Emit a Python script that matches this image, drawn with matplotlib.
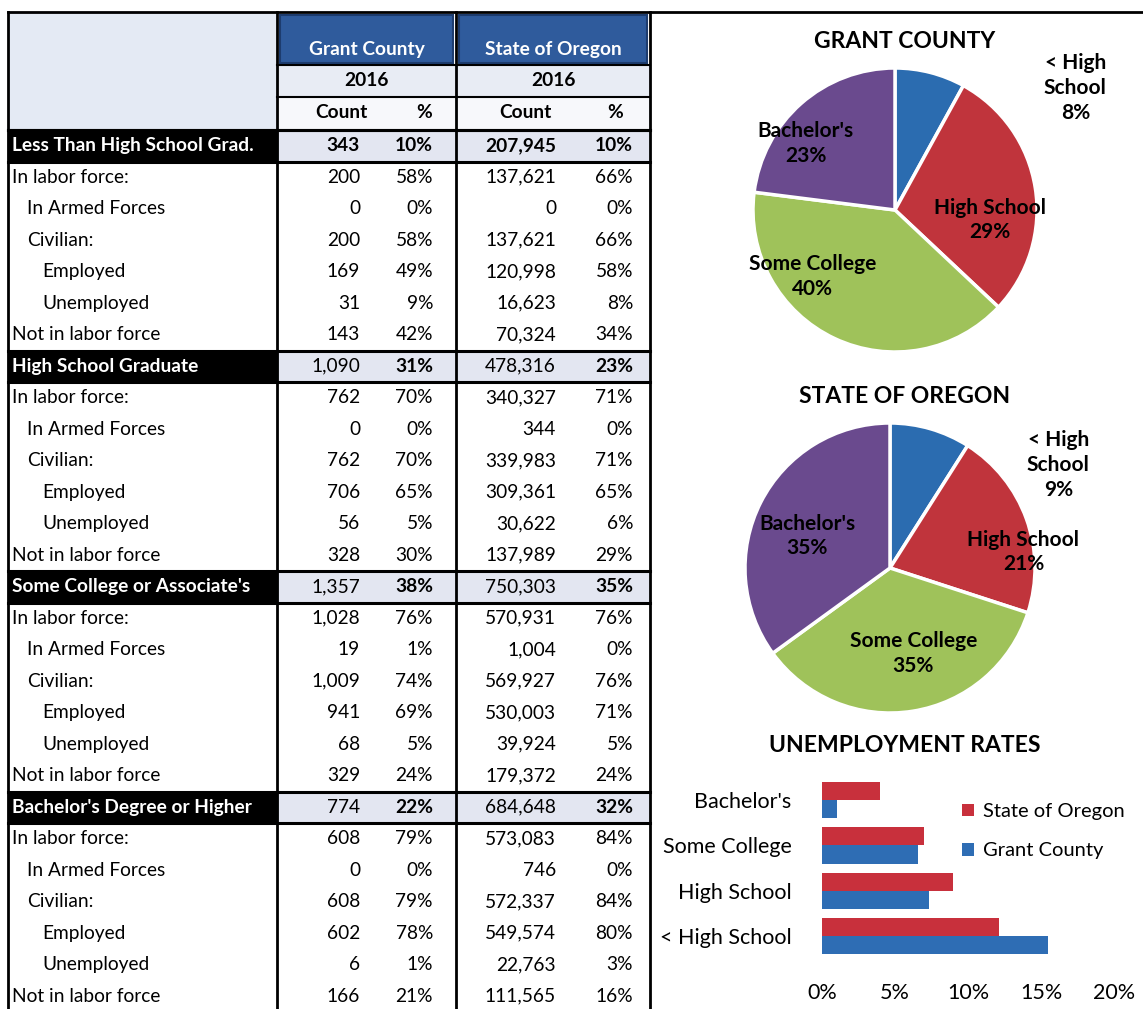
import matplotlib
matplotlib.use("Agg")
import matplotlib.pyplot as plt
from matplotlib.patches import Rectangle

plt.rcParams['font.family'] = ['Lato', 'DejaVu Sans']

# ---- table data ----
row_labels = [
    "Less Than High School Grad.", "In labor force:", "In Armed Forces", "Civilian:",
    "Employed", "Unemployed", "Not in labor force",
    "High School Graduate", "In labor force:", "In Armed Forces", "Civilian:",
    "Employed", "Unemployed", "Not in labor force",
    "Some College or Associate's", "In labor force:", "In Armed Forces", "Civilian:",
    "Employed", "Unemployed", "Not in labor force",
    "Bachelor's Degree or Higher", "In labor force:", "In Armed Forces", "Civilian:",
    "Employed", "Unemployed", "Not in labor force",
]
row_indent = [0, 0, 1, 1, 2, 2, 0] * 4
group_rows = [0, 7, 14, 21]

grant_count = [343, 200, 0, 200, 169, 31, 143,
               1090, 762, 0, 762, 706, 56, 328,
               1357, 1028, 19, 1009, 941, 68, 329,
               774, 608, 0, 608, 602, 6, 166]
grant_pct = [10, 58, 0, 58, 49, 9, 42,
             31, 70, 0, 70, 65, 5, 30,
             38, 76, 1, 74, 69, 5, 24,
             22, 79, 0, 79, 78, 1, 21]
oregon_count = [207945, 137621, 0, 137621, 120998, 16623, 70324,
                478316, 340327, 344, 339983, 309361, 30622, 137989,
                750303, 570931, 1004, 569927, 530003, 39924, 179372,
                684648, 573083, 746, 572337, 549574, 22763, 111565]
oregon_pct = [10, 66, 0, 66, 58, 8, 34,
              23, 71, 0, 71, 65, 6, 29,
              35, 76, 0, 76, 71, 5, 24,
              32, 84, 0, 84, 80, 3, 16]

# ---- pie data ----
pie_labels = ["< High\nSchool", "High School", "Some College", "Bachelor's"]
grant_share = [8, 29, 40, 23]
oregon_share = [9, 21, 35, 35]

# ---- unemployment bars ----
unemp_cats = ["< High School", "High School", "Some College", "Bachelor's"]
unemp_oregon = [12.1, 9.0, 7.0, 4.0]
unemp_grant = [15.5, 7.3, 6.6, 1.0]

W, H = 1143, 1009
fig = plt.figure(figsize=(W / 100, H / 100), dpi=100)
ax = fig.add_axes([0, 0, 1, 1])
ax.set_xlim(0, W)
ax.set_ylim(H, 0)
ax.axis('off')

FS = 13.8
x_left, x_c1, x_c2, x_right = 8, 277, 456, 650
top = 12
row0 = 130
rh = 31.5

# header block
ax.add_patch(Rectangle((x_left, top), x_c1 - x_left, row0 - top, color='#e4eaf4', zorder=0))
ax.add_patch(Rectangle((x_c1, 65), x_right - x_c1, 32, color='#e8ecf4', zorder=0))
ax.add_patch(Rectangle((x_c1, 97), x_right - x_c1, 33, color='#f7f8fb', zorder=0))
for x0, x1, name in [(x_c1, x_c2, "Grant County"), (x_c2, x_right, "State of Oregon")]:
    ax.add_patch(Rectangle((x0 + 3, top + 3), x1 - x0 - 6, 48, facecolor='#2f5b9c',
                           edgecolor='#1d3c6e', lw=1.5, zorder=1))
    ax.text((x0 + x1) / 2, 50, name, color='white', fontsize=FS, fontweight='bold',
            ha='center', va='center')
    ax.text((x0 + x1) / 2, 81, "2016", fontsize=FS, fontweight='bold', ha='center', va='center')
    ax.text(x0 + (x1 - x0) * 0.36, 113, "Count", fontsize=FS, fontweight='bold',
            ha='center', va='center')
    ax.text(x0 + (x1 - x0) * 0.82, 113, "%", fontsize=FS, fontweight='bold',
            ha='center', va='center')
ax.plot([x_c1, x_right], [65, 65], color='black', lw=1.5)
ax.plot([x_c1, x_right], [97, 97], color='black', lw=1.5)

# rows
for i, lab in enumerate(row_labels):
    y0 = row0 + rh * i
    yc = y0 + rh / 2
    is_group = i in group_rows
    if is_group:
        ax.add_patch(Rectangle((x_left, y0), x_c1 - x_left, rh, color='black', zorder=1))
        ax.add_patch(Rectangle((x_c1, y0), x_right - x_c1, rh, color='#e3e6f1', zorder=0))
        ax.plot([x_left, x_right], [y0, y0], color='black', lw=2.2, zorder=3)
        ax.plot([x_left, x_right], [y0 + rh, y0 + rh], color='black', lw=2.2, zorder=3)
        ax.text(x_left + 4, yc, lab, color='white', fontsize=FS, fontweight='bold',
                va='center', ha='left', zorder=4)
    else:
        ax.text(x_left + 4 + 15 * row_indent[i], yc, lab, fontsize=FS, va='center', ha='left')
    cw = 'bold' if i == 0 else 'normal'
    ax.text(360, yc, f"{grant_count[i]:,}", fontsize=FS, fontweight=cw, ha='right', va='center')
    ax.text(556, yc, f"{oregon_count[i]:,}", fontsize=FS, fontweight=cw, ha='right', va='center')
    pw = 'bold' if is_group else 'normal'
    ax.text(433, yc, f"{grant_pct[i]}%", fontsize=FS, fontweight=pw, ha='right', va='center')
    ax.text(633, yc, f"{oregon_pct[i]}%", fontsize=FS, fontweight=pw, ha='right', va='center')

# borders
for x in [x_left, x_c1, x_c2, x_right]:
    ax.plot([x, x], [top, H], color='black', lw=2, zorder=3)
ax.plot([x_left, W], [top, top], color='black', lw=2, zorder=3)
ax.plot([x_left, x_right], [row0, row0], color='black', lw=2.2, zorder=3)

# ---- pies ----
pie_colors = ['#2b6cb0', '#c0343c', '#9fc25a', '#6a4a8e']


def draw_pie(cx, cy, r, shares, label_pos, title, title_y):
    pax = fig.add_axes([(cx - r) / W, (H - cy - r) / H, 2 * r / W, 2 * r / H])
    pax.pie(shares, colors=pie_colors, startangle=90, counterclock=False,
            wedgeprops=dict(edgecolor='white', linewidth=2.5))
    pax.set_xlim(-1, 1)
    pax.set_ylim(-1, 1)
    pax.set_aspect('equal')
    pax.axis('off')
    for lab, v, (tx, ty) in zip(pie_labels, shares, label_pos):
        pax.text(tx, ty, f"{lab}\n{v}%", ha='center', va='center', fontsize=15,
                 fontweight='bold', linespacing=1.3)
    fig.text(905 / W, 1 - title_y / H, title, ha='center', va='center',
             fontsize=16.5, fontweight='bold')


draw_pie(895, 210, 142, grant_share,
         [(1.27, 0.86), (0.67, -0.07), (-0.58, -0.47), (-0.63, 0.47)],
         "GRANT COUNTY", 41)
draw_pie(890, 568, 145, oregon_share,
         [(1.16, 0.71), (0.92, 0.11), (0.16, -0.59), (-0.57, 0.22)],
         "STATE OF OREGON", 397)

# ---- unemployment bars ----
bx0, bx1 = 822, 1114
by_top, by_bot = 773, 979
bax = fig.add_axes([bx0 / W, (H - by_bot) / H, (bx1 - bx0) / W, (by_bot - by_top) / H])
ypos = list(range(len(unemp_cats)))
bax.barh([y + 0.2 for y in ypos], unemp_oregon, height=0.4, color='#c8303c', label='State of Oregon')
bax.barh([y - 0.2 for y in ypos], unemp_grant, height=0.4, color='#2e6db4', label='Grant County')
bax.set_xlim(0, 20)
bax.set_ylim(-0.95, 3.6)
bax.set_xticks([0, 5, 10, 15, 20])
bax.set_xticklabels(["0%", "5%", "10%", "15%", "20%"], fontsize=15.5)
bax.set_yticks(ypos)
bax.set_yticklabels(unemp_cats, fontsize=15.5)
bax.tick_params(length=0, axis='y', pad=22)
bax.tick_params(length=0, axis='x', pad=3)
for s in bax.spines.values():
    s.set_visible(False)
bax.patch.set_alpha(0)
bax.legend(loc='upper left', bbox_to_anchor=(944 / W, 1 - 785 / H), bbox_transform=fig.transFigure,
           frameon=False, fontsize=14.5, handlelength=0.6, handleheight=0.6, handletextpad=0.45,
           labelspacing=1.1)
fig.text(905 / W, 1 - 745 / H, "UNEMPLOYMENT RATES", ha='center', va='center',
         fontsize=16.5, fontweight='bold')

fig.savefig("out.png", dpi=100)
